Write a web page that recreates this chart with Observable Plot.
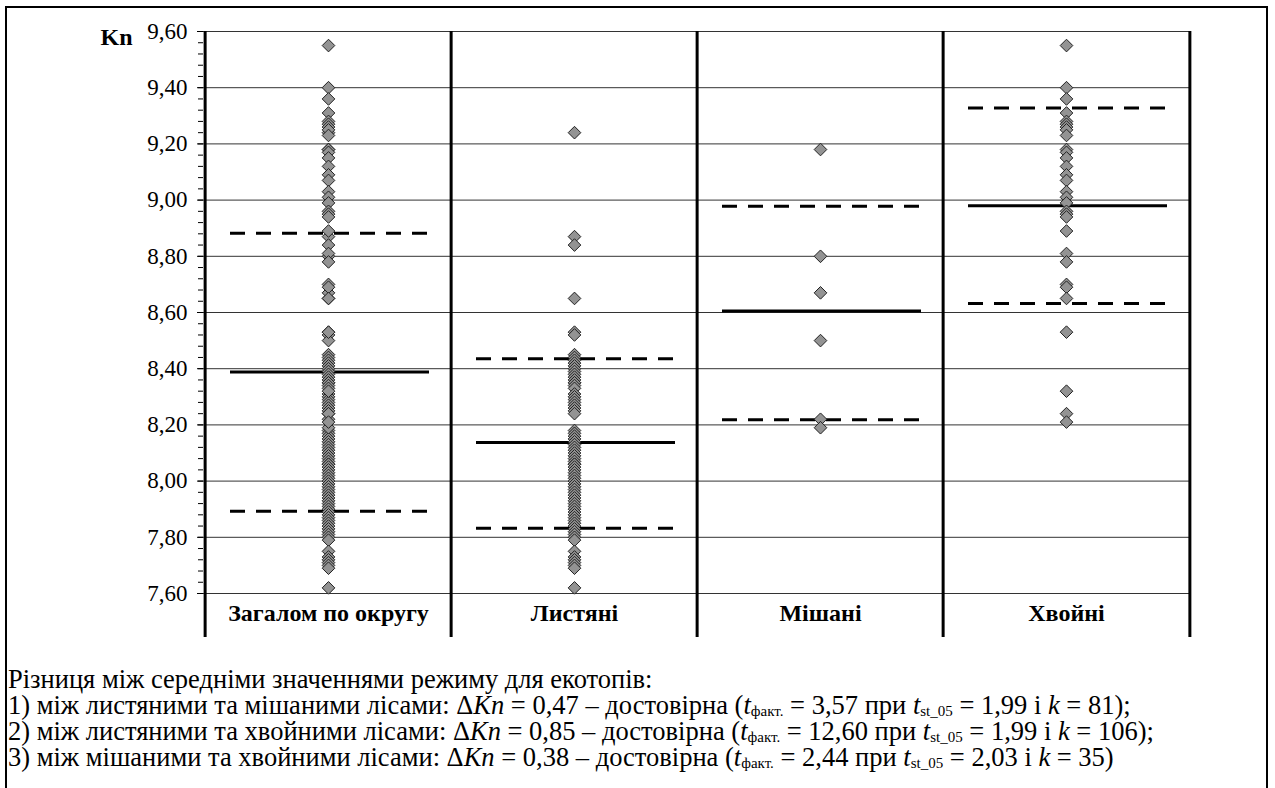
<!DOCTYPE html>
<html>
<head>
<meta charset="utf-8">
<script src="https://cdn.jsdelivr.net/npm/d3@7"></script>
<script src="https://cdn.jsdelivr.net/npm/@observablehq/plot@0.6"></script>
<style>
  html, body { margin: 0; padding: 0; background: #fff; }
  #page { position: relative; width: 1275px; height: 788px; overflow: hidden; font-family: "Liberation Serif", serif; }
  #frame { position: absolute; left: 5px; top: 6px; width: 1263px; height: 800px; border: 2px solid #000; box-sizing: border-box; }
  #chart { position: absolute; left: 0; top: 0; }
  #caption { position: absolute; left: 8px; top: 666px; font-size: 26.5px; line-height: 26px; color: #000; white-space: nowrap; }
  #caption sub { font-size: 15px; line-height: 0; vertical-align: -0.15em; }
</style>
</head>
<body>
<div id="page">
  <div id="frame"></div>
  <div id="chart"></div>
  <div id="caption">
    <div>Різниця між середніми значеннями режиму для екотопів:</div>
    <div>1) між листяними та мішаними лісами: Δ<i>Kn</i> = 0,47 – достовірна (<i>t</i><sub>факт.</sub> = 3,57 при <i>t</i><sub>st_05</sub> = 1,99 і <i>k</i> = 81);</div>
    <div>2) між листяними та хвойними лісами: Δ<i>Kn</i> = 0,85 – достовірна (<i>t</i><sub>факт.</sub> = 12,60 при <i>t</i><sub>st_05</sub> = 1,99 і <i>k</i> = 106);</div>
    <div>3) між мішаними та хвойними лісами: Δ<i>Kn</i> = 0,38 – достовірна (<i>t</i><sub>факт.</sub> = 2,44 при <i>t</i><sub>st_05</sub> = 2,03 і <i>k</i> = 35)</div>
  </div>
</div>
<script>
// ---- data ----
const categories = ["Загалом по округу", "Листяні", "Мішані", "Хвойні"];

const leaves = [
  9.24, 8.87, 8.84, 8.65, 8.53, 8.52,
  8.45, 8.44, 8.43, 8.42, 8.41, 8.40, 8.39, 8.38, 8.37, 8.36, 8.35, 8.35, 8.34, 8.33, 8.31, 8.30, 8.29, 8.28, 8.27, 8.26, 8.25, 8.24,
  8.18, 8.17, 8.16, 8.15, 8.14, 8.13, 8.12, 8.11, 8.10, 8.09, 8.08, 8.07, 8.06, 8.06, 8.05, 8.04, 8.03, 8.02, 8.01, 8.00, 7.99, 7.98, 7.97,
  7.96, 7.95, 7.94, 7.93, 7.92, 7.91, 7.90, 7.89, 7.88, 7.87, 7.86, 7.85, 7.84, 7.83, 7.82, 7.81, 7.80, 7.79,
  7.75, 7.73, 7.72, 7.71, 7.70, 7.69, 7.62
];
const mixed = [9.18, 8.80, 8.67, 8.50, 8.22, 8.19];
const conifer = [
  9.55, 9.40, 9.36, 9.31, 9.28, 9.27, 9.26, 9.25, 9.23, 9.18, 9.17, 9.15, 9.12, 9.09, 9.07, 9.03, 9.01, 8.99,
  8.96, 8.95, 8.94, 8.89, 8.81, 8.78, 8.70, 8.69, 8.65, 8.53, 8.32, 8.24, 8.21
];
const overall = [...leaves, ...mixed, ...conifer];

const meanKn  = [8.388, 8.137, 8.605, 8.980];
const lowerKn = [7.893, 7.832, 8.218, 8.632];
const upperKn = [8.882, 8.435, 8.978, 9.328];

const yTicks = [7.6, 7.8, 8.0, 8.2, 8.4, 8.6, 8.8, 9.0, 9.2, 9.4, 9.6];
const yMinor = d3.range(0, 51).map(i => +(7.6 + i * 0.04).toFixed(2));

// ---- tables ----
const seriesByCat = [overall, leaves, mixed, conifer];
const points = seriesByCat.flatMap((vals, i) => vals.map(v => ({cat: categories[i], kn: v})));
const stats = categories.map((c, i) => ({cat: c, mean: meanKn[i], lower: lowerKn[i], upper: upperKn[i]}));
const bounds = stats.flatMap(d => [{cat: d.cat, kn: d.lower}, {cat: d.cat, kn: d.upper}]);

// ---- layout ----
const W = 1275, H = 637, mL = 203, mR = 85, mT = 31, mB = 44;
const bw = (W - mL - mR) / categories.length;
const yBottomRow = 7.6 - mB * (2.0 / (H - mT - mB));

const chart = Plot.plot({
  width: W,
  height: H,
  marginLeft: mL,
  marginRight: mR,
  marginTop: mT,
  marginBottom: mB,
  style: {fontFamily: "'Liberation Serif', serif", fontSize: "23px", color: "#000", background: "transparent"},
  x: {type: "band", domain: categories, padding: 0, axis: null},
  y: {domain: [7.6, 9.6], axis: null},
  marks: [
    Plot.gridY(yTicks, {stroke: "#333", strokeOpacity: 1, strokeWidth: 1}),
    Plot.axisY(yMinor, {tickSize: 5, tickFormat: () => "", stroke: "#000", strokeWidth: 1, label: null}),
    Plot.axisY(yTicks, {tickSize: 6, tickPadding: 10, tickFormat: d => d.toFixed(2).replace(".", ","), fontSize: 23, label: null, stroke: "#000"}),
    Plot.axisX({tickSize: 0, tickPadding: 10, fontSize: 24, fontWeight: "bold", label: null}),
    Plot.ruleX(categories, {x: d => d, y1: 9.6, y2: yBottomRow, dx: -bw / 2, stroke: "#000", strokeWidth: 3}),
    Plot.ruleX([categories[categories.length - 1]], {x: d => d, y1: 9.6, y2: yBottomRow, dx: bw / 2, stroke: "#000", strokeWidth: 3}),
    Plot.tickY(bounds, {x: "cat", y: "kn", insetLeft: 25, insetRight: 22, stroke: "#000", strokeWidth: 3, strokeDasharray: "15,11"}),
    Plot.tickY(stats, {x: "cat", y: "mean", insetLeft: 25, insetRight: 22, stroke: "#000", strokeWidth: 3}),
    Plot.dot(points, {x: "cat", y: "kn", symbol: "diamond2", r: 5.7, fill: "#939393", stroke: "#222", strokeWidth: 1}),
    Plot.text(["Kn"], {frameAnchor: "top-left", dx: -71, dy: 6, textAnchor: "end", lineAnchor: "middle", fontWeight: "bold", fontSize: 24})
  ]
});
document.getElementById("chart").appendChild(chart);
</script>
</body>
</html>
